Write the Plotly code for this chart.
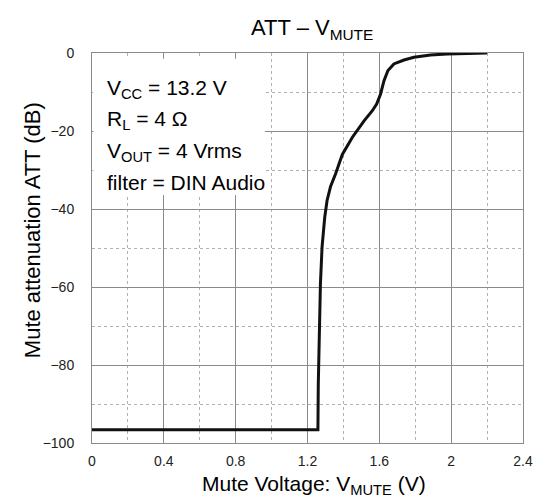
import plotly.graph_objects as go

# Data
v_mute = [0, 1.258, 1.260, 1.263, 1.266, 1.272, 1.281, 1.296, 1.309, 1.328, 1.357, 1.394,
          1.45, 1.515, 1.561, 1.585, 1.607, 1.626, 1.648, 1.681, 1.737, 1.793,
          1.885, 1.978, 2.2]
att_db = [-96.6, -96.6, -85, -76, -69.5, -59.2, -49.8, -42.1, -37.8, -34.3, -30.9, -26.0,
          -21.6, -17.4, -14.8, -13.1, -10.5, -7.1, -4.5, -2.8, -1.8, -1.1,
          -0.5, -0.25, 0]

x_ticks = [0, 0.4, 0.8, 1.2, 1.6, 2, 2.4]
x_tick_text = ["0", "0.4", "0.8", "1.2", "1.6", "2", "2.4"]
y_ticks = [0, -20, -40, -60, -80, -100]

cond_lines = ["V<sub>CC</sub> = 13.2 V", "R<sub>L</sub> = 4 Ω",
              "V<sub>OUT</sub> = 4 Vrms", "filter = DIN Audio"]
cond_y = [0.9085, 0.829, 0.745, 0.667]

FONT = "Liberation Sans, Arial, sans-serif"

fig = go.Figure()
fig.add_trace(go.Scatter(x=v_mute, y=att_db, mode="lines",
                         line=dict(color="#111111", width=3),
                         showlegend=False, hoverinfo="skip"))

fig.update_layout(
    width=548, height=502,
    margin=dict(l=84, r=33, t=45, b=67),
    paper_bgcolor="white", plot_bgcolor="white",
    font=dict(family=FONT, color="#000"),
)

fig.update_xaxes(range=[0, 2.4], tickvals=x_ticks, ticktext=x_tick_text,
                 showgrid=True, gridcolor="#8a8a8a", gridwidth=1,
                 minor=dict(dtick=0.2, showgrid=True, gridcolor="#b0b0b0", griddash="dot", gridwidth=1),
                 showline=True, linecolor="#8a8a8a", linewidth=1, mirror=True,
                 zeroline=False, ticks="", tickfont=dict(size=14, color="#222"),
                 ticklabelstandoff=5, automargin=False)
fig.update_yaxes(range=[-100, 0], tickvals=y_ticks,
                 showgrid=True, gridcolor="#8a8a8a", gridwidth=1,
                 minor=dict(dtick=10, showgrid=True, gridcolor="#b0b0b0", griddash="dot", gridwidth=1),
                 showline=True, linecolor="#8a8a8a", linewidth=1, mirror=True,
                 zeroline=False, ticks="", tickfont=dict(size=14, color="#222"),
                 ticklabelstandoff=14, automargin=False)

# Titles placed as annotations
fig.add_annotation(text="ATT – V<sub>MUTE</sub>", xref="paper", yref="paper", x=0.510, y=1.0615,
                   xanchor="center", yanchor="middle", showarrow=False,
                   font=dict(size=22, color="#000", family=FONT))
fig.add_annotation(text="Mute Voltage: V<sub>MUTE</sub> (V)", xref="paper", yref="paper",
                   x=0.515, y=-0.068, xanchor="center", yanchor="top", showarrow=False,
                   font=dict(size=21, color="#000", family=FONT))
fig.add_annotation(text="Mute attenuation ATT (dB)", xref="paper", yref="paper",
                   x=-0.139, y=0.546, xanchor="center", yanchor="middle", showarrow=False,
                   textangle=-90, font=dict(size=22, color="#000", family=FONT))

# White box behind the condition text
fig.add_shape(type="rect", xref="paper", yref="paper", x0=0.003, x1=0.401, y0=0.636, y1=0.985,
              fillcolor="white", line=dict(width=0), layer="above")

for txt, yy in zip(cond_lines, cond_y):
    fig.add_annotation(text=txt, xref="paper", yref="paper", x=0.0295, y=yy,
                       xanchor="left", yanchor="middle", showarrow=False,
                       font=dict(size=21, color="#000", family=FONT))

# faint scan lines at bottom
fig.add_shape(type="line", xref="paper", yref="paper", x0=-0.165, x1=0.014, y0=-0.154, y1=-0.154,
              line=dict(color="#dddddd", width=1))
fig.add_shape(type="line", xref="paper", yref="paper", x0=1.014, x1=1.08, y0=-0.154, y1=-0.154,
              line=dict(color="#dddddd", width=1))

fig.write_html("out.html")
